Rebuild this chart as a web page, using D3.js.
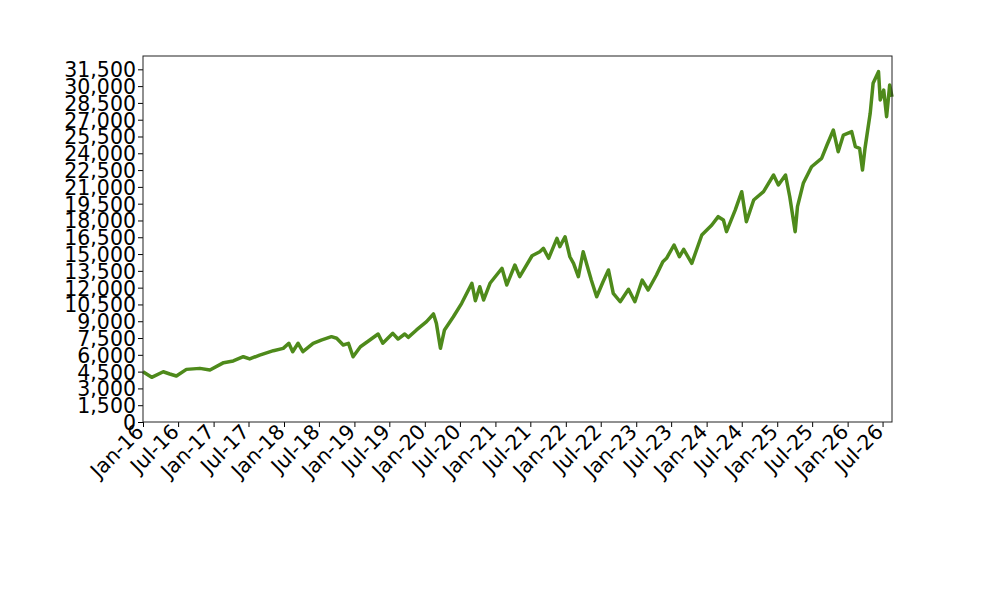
<!DOCTYPE html>
<html>
<head>
<meta charset="utf-8">
<title>Index</title>
<script src="https://cdn.jsdelivr.net/npm/d3@7"></script>
<style>
    body { margin: 0; background: #fff; }
    svg { display: block; }
</style>
</head>
<body>
<svg id="chart" width="1000" height="600"></svg>
<script>
// data
const dates = [
    "2016-01-01", "2016-02-15", "2016-04-15", "2016-05-19", "2016-06-22", "2016-08-13",
    "2016-10-22", "2016-12-13", "2017-02-22", "2017-04-13", "2017-06-04", "2017-07-07",
    "2017-08-28", "2017-11-07", "2017-12-28", "2018-01-26", "2018-02-15", "2018-03-15",
    "2018-04-09", "2018-06-01", "2018-07-13", "2018-09-04", "2018-10-01", "2018-11-04",
    "2018-12-01", "2018-12-25", "2019-02-01", "2019-03-22", "2019-05-04", "2019-05-28",
    "2019-07-19", "2019-08-15", "2019-09-19", "2019-10-07", "2019-11-19", "2020-01-10",
    "2020-02-15", "2020-03-01", "2020-03-22", "2020-04-12", "2020-05-28", "2020-07-10",
    "2020-09-01", "2020-09-19", "2020-10-12", "2020-11-01", "2020-12-04", "2021-02-04",
    "2021-03-01", "2021-04-12", "2021-05-07", "2021-07-10", "2021-08-19", "2021-09-07",
    "2021-10-04", "2021-11-16", "2021-12-01", "2021-12-28", "2022-01-22", "2022-02-10",
    "2022-03-07", "2022-04-01", "2022-04-28", "2022-05-13", "2022-06-10", "2022-07-13",
    "2022-08-10", "2022-09-04", "2022-10-10", "2022-11-22", "2022-12-25", "2023-02-01",
    "2023-03-04", "2023-04-16", "2023-05-19", "2023-06-07", "2023-07-16", "2023-08-13",
    "2023-09-04", "2023-10-16", "2023-12-07", "2024-01-28", "2024-03-01", "2024-03-28",
    "2024-04-13", "2024-05-28", "2024-07-01", "2024-07-25", "2024-09-01", "2024-10-22",
    "2024-12-13", "2025-01-07", "2025-02-13", "2025-03-07", "2025-04-04", "2025-04-16",
    "2025-05-16", "2025-06-28", "2025-08-19", "2025-09-16", "2025-10-19", "2025-11-13",
    "2025-12-10", "2026-01-22", "2026-02-10", "2026-03-04", "2026-03-19", "2026-04-01",
    "2026-04-28", "2026-05-13", "2026-06-10", "2026-06-19", "2026-07-07", "2026-07-22",
    "2026-08-07", "2026-08-19"
];
const values = [
    4490, 3990, 4490, 4290, 4110, 4700,
    4790, 4640, 5300, 5450, 5830, 5630,
    5980, 6370, 6580, 7030, 6280, 7030,
    6280, 7030, 7320, 7620, 7480, 6880,
    7030, 5830, 6720, 7320, 7860, 7030,
    7920, 7410, 7860, 7560, 8220, 8960,
    9650, 8810, 6580, 8220, 9400, 10600,
    12390, 10830, 12080, 10900, 12390, 13730,
    12240, 14020, 12980, 14850, 15210, 15510,
    14620, 16400, 15660, 16550, 14760, 14170,
    12980, 15210, 13580, 12680, 11190, 12530,
    13580, 11490, 10740, 11850, 10740, 12680,
    11790, 13130, 14320, 14620, 15810, 14760,
    15420, 14170, 16700, 17590, 18340, 18040,
    17000, 18930, 20570, 17890, 19830, 20570,
    22060, 21170, 22060, 20120, 17000, 19230,
    21320, 22800, 23550, 24740, 26080, 24140,
    25630, 25930, 24590, 24440, 22510, 24440,
    27570, 30250, 31290, 28760, 29650, 27270,
    30100, 29050
];
const yTicks = d3.range(0, 31501, 1500);
const xTickLabels = [
    "Jan-16", "Jul-16", "Jan-17", "Jul-17", "Jan-18", "Jul-18", "Jan-19", "Jul-19",
    "Jan-20", "Jul-20", "Jan-21", "Jul-21", "Jan-22", "Jul-22", "Jan-23", "Jul-23",
    "Jan-24", "Jul-24", "Jan-25", "Jul-25", "Jan-26", "Jul-26"
];
const xStart = "2016-01-01";
const xEnd = "2026-08-19";
const yMax = 32690;

const parseDate = d3.timeParse("%Y-%m-%d");
const series = dates.map(function (d, i) {
    return { date: parseDate(d), value: values[i] };
});
const xTickDates = xTickLabels.map(function (d) {
    return d3.timeParse("%b-%y")(d);
});

// layout
const plotLeft = 143, plotRight = 892, plotTop = 56, plotBottom = 422;
const fontSize = 20.5;
const lineColor = "#4e8a1b";

const svg = d3.select("#chart");

const x = d3.scaleTime()
    .domain([parseDate(xStart), parseDate(xEnd)])
    .range([plotLeft, plotRight]);

const y = d3.scaleLinear()
    .domain([0, yMax])
    .range([plotBottom, plotTop]);

//y axis
const yAxis = svg.append("g")
    .attr("transform", "translate(" + plotLeft + ",0)")
    .call(d3.axisLeft(y).tickValues(yTicks).tickSize(5).tickPadding(0).tickFormat(d3.format(",")))
    .attr("font-family", "DejaVu Sans")
    .attr("font-size", fontSize);

yAxis.select(".domain").remove();
yAxis.selectAll(".tick line").attr("stroke", "#000").attr("stroke-width", 1);
yAxis.selectAll(".tick text")
    .attr("x", -7)
    .attr("dy", "0.36em")
    .attr("text-anchor", "end")
    .attr("fill", "#000");

//x axis
const xAxis = svg.append("g")
    .attr("transform", "translate(0," + plotBottom + ")")
    .call(d3.axisBottom(x).tickValues(xTickDates).tickSize(5).tickPadding(0)
        .tickFormat(function (d, i) { return xTickLabels[i]; }))
    .attr("font-family", "DejaVu Sans")
    .attr("font-size", fontSize);

xAxis.select(".domain").remove();
xAxis.selectAll(".tick line").attr("stroke", "#000").attr("stroke-width", 1);
xAxis.selectAll(".tick text")
    .attr("y", null)
    .attr("dy", null)
    .attr("text-anchor", "end")
    .attr("transform", "translate(1.5,11) rotate(-45)")
    .attr("fill", "#000");

//line
const line = d3.line()
    .x(function (d) { return x(d.date); })
    .y(function (d) { return y(d.value); });

svg.append("path")
    .datum(series)
    .attr("fill", "none")
    .attr("stroke", lineColor)
    .attr("stroke-width", 3.5)
    .attr("stroke-linejoin", "round")
    .attr("d", line);

//frame
svg.append("rect")
    .attr("x", plotLeft)
    .attr("y", plotTop)
    .attr("width", plotRight - plotLeft)
    .attr("height", plotBottom - plotTop)
    .attr("fill", "none")
    .attr("stroke", "#222")
    .attr("stroke-width", 1);
</script>
</body>
</html>
